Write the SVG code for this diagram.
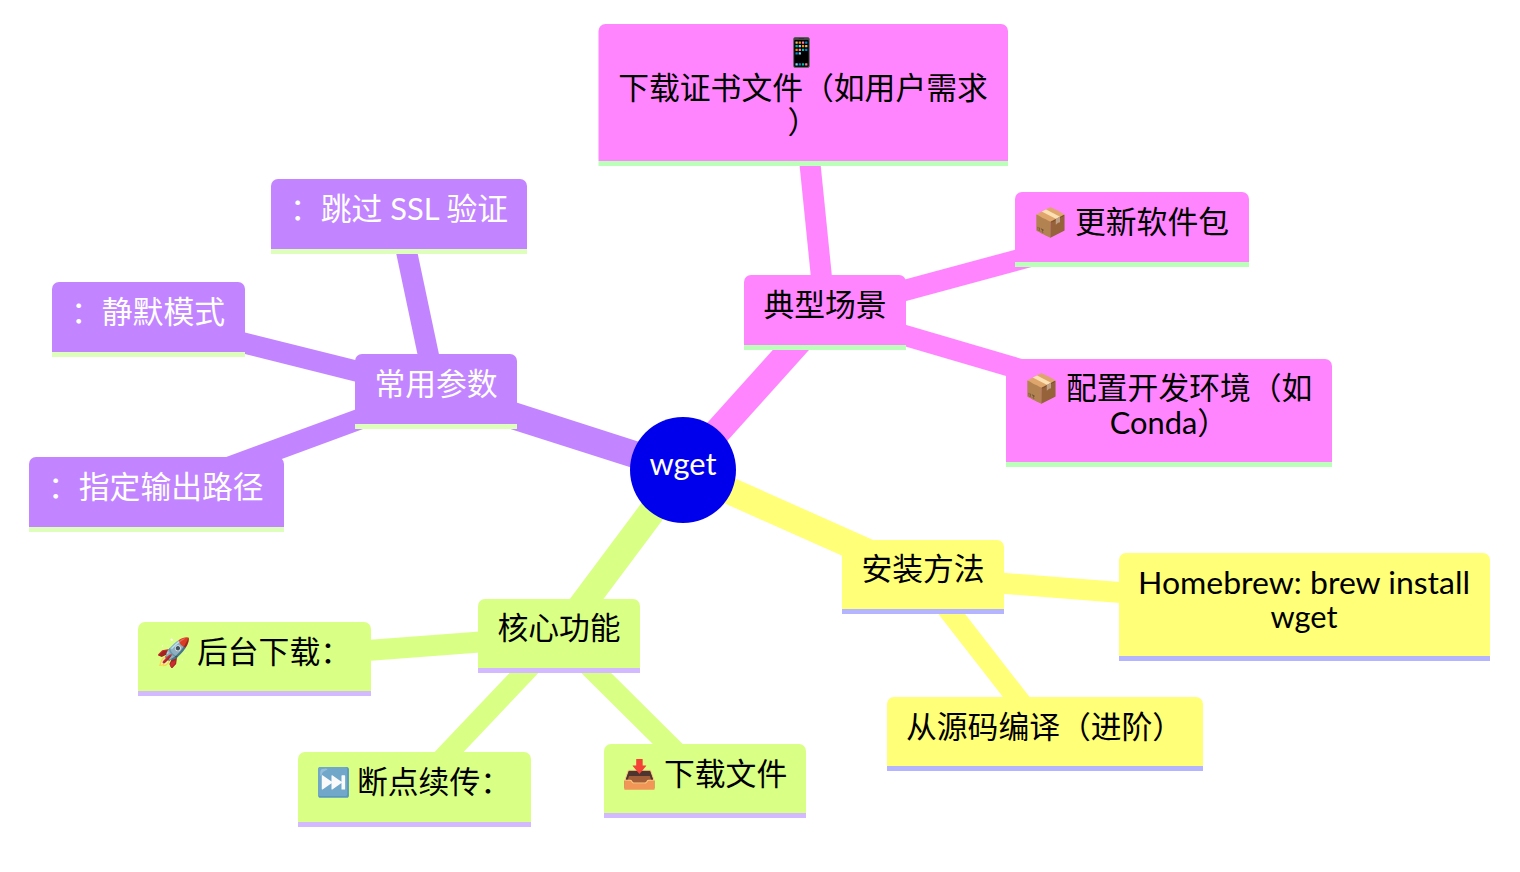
<svg xmlns="http://www.w3.org/2000/svg" width="1520" height="872" viewBox="0 0 1520 872">
<style>
text{font-family:"Lato","Noto Sans CJK SC","Noto Color Emoji",sans-serif;font-size:30.8px;fill:#000}
text.em{font-family:"Noto Color Emoji",sans-serif;font-size:28px}
text.w{fill:#fff}
.pk{fill:#ff85ff}.pu{fill:#c285ff}.gr{fill:#d9ff85}.ye{fill:#ffff78}
.pkl{fill:#bbffbb}.pul{fill:#ddffbb}.grl{fill:#d3b9ff}.yel{fill:#b5b5ff}
.e1{stroke-width:27}.e2{stroke-width:21}
.spk{stroke:#ff85ff}.spu{stroke:#c285ff}.sgr{stroke:#d9ff85}.sye{stroke:#ffff78}
.m{text-anchor:middle}
.slate{filter:hue-rotate(175deg) saturate(.45)}
</style>
<rect width="1520" height="872" fill="#fff"/>
<g id="edges">
<line class="e2 spk" x1="825" y1="312" x2="803" y2="95"/>
<line class="e2 spk" x1="825" y1="312" x2="1132" y2="229"/>
<line class="e2 spk" x1="825" y1="312" x2="1169" y2="413"/>
<line class="e2 sye" x1="923" y1="577" x2="1304" y2="607"/>
<line class="e2 sye" x1="923" y1="577" x2="1045" y2="734"/>
<line class="e2 sgr" x1="559" y1="636" x2="254" y2="659"/>
<line class="e2 sgr" x1="559" y1="636" x2="414" y2="789"/>
<line class="e2 sgr" x1="559" y1="636" x2="705" y2="781"/>
<line class="e2 spu" x1="436" y1="391" x2="399" y2="216"/>
<line class="e2 spu" x1="436" y1="391" x2="148" y2="319"/>
<line class="e2 spu" x1="436" y1="391" x2="156" y2="494"/>
<line class="e1 spk" x1="683" y1="470" x2="825" y2="312"/>
<line class="e1 sye" x1="683" y1="470" x2="923" y2="577"/>
<line class="e1 sgr" x1="683" y1="470" x2="559" y2="636"/>
<line class="e1 spu" x1="683" y1="470" x2="436" y2="391"/>
</g>
<g id="root"><circle cx="683" cy="470" r="53" fill="#0000ec"/><text class="w m" x="683" y="475">wget</text></g>
<g id="n-scene"><path class="pk" d="M744 345V282a7 7 0 0 1 7-7H899a7 7 0 0 1 7 7V345Z"/><rect class="pkl" x="744" y="345" width="162" height="5"/><text class="m" x="825" y="316">典型场景</text></g>
<g id="n-cert"><path class="pk" d="M598.500 161V31a7 7 0 0 1 7-7H1001a7 7 0 0 1 7 7V161Z"/><rect class="pkl" x="598.500" y="161" width="409.500" height="5"/><text class="em m" x="802" y="62">📱</text><text class="m" x="803" y="99">下载证书文件（如用户需求</text><text class="m" x="803" y="133">）</text></g>
<g id="n-update"><path class="pk" d="M1015 262V199a7 7 0 0 1 7-7H1242a7 7 0 0 1 7 7V262Z"/><rect class="pkl" x="1015" y="262" width="234" height="5"/><text class="em" x="1033" y="232">📦</text><text x="1075" y="233">更新软件包</text></g>
<g id="n-env"><path class="pk" d="M1006 462V366a7 7 0 0 1 7-7H1325a7 7 0 0 1 7 7V462Z"/><rect class="pkl" x="1006" y="462" width="326" height="5"/><text class="em" x="1024" y="398">📦</text><text x="1066" y="399">配置开发环境（如</text><text class="m" x="1169" y="434">Conda）</text></g>
<g id="n-install"><path class="ye" d="M842 609V547a7 7 0 0 1 7-7H997a7 7 0 0 1 7 7V609Z"/><rect class="yel" x="842" y="609" width="162" height="5"/><text class="m" x="923" y="580">安装方法</text></g>
<g id="n-brew"><path class="ye" d="M1119 656V560a7 7 0 0 1 7-7H1483a7 7 0 0 1 7 7V656Z"/><rect class="yel" x="1119" y="656" width="371" height="5"/><text x="1138" y="594" textLength="332" lengthAdjust="spacingAndGlyphs">Homebrew: brew install</text><text class="m" x="1304" y="628">wget</text></g>
<g id="n-src"><path class="ye" d="M887 766V704a7 7 0 0 1 7-7H1196a7 7 0 0 1 7 7V766Z"/><rect class="yel" x="887" y="766" width="316" height="5"/><text x="906" y="738">从源码编译（进阶）</text></g>
<g id="n-core"><path class="gr" d="M478 668V606a7 7 0 0 1 7-7H633a7 7 0 0 1 7 7V668Z"/><rect class="grl" x="478" y="668" width="162" height="5"/><text class="m" x="559" y="639">核心功能</text></g>
<g id="n-bg"><path class="gr" d="M138 691V629a7 7 0 0 1 7-7H364a7 7 0 0 1 7 7V691Z"/><rect class="grl" x="138" y="691" width="233" height="5"/><text class="em" x="156" y="662">🚀</text><text x="197" y="663">后台下载：</text></g>
<g id="n-resume"><path class="gr" d="M298 822V759a7 7 0 0 1 7-7H524a7 7 0 0 1 7 7V822Z"/><rect class="grl" x="298" y="822" width="233" height="5"/><text class="em slate" x="316" y="792">⏭️</text><text x="357" y="793">断点续传：</text></g>
<g id="n-dl"><path class="gr" d="M604 813V751a7 7 0 0 1 7-7H799a7 7 0 0 1 7 7V813Z"/><rect class="grl" x="604" y="813" width="202" height="5"/><text class="em" x="622" y="784">📥</text><text x="664" y="785">下载文件</text></g>
<g id="n-params"><path class="pu" d="M355 424V361a7 7 0 0 1 7-7H510a7 7 0 0 1 7 7V424Z"/><rect class="pul" x="355" y="424" width="162" height="5"/><text class="w m" x="436" y="395">常用参数</text></g>
<g id="n-ssl"><path class="pu" d="M271 249V186a7 7 0 0 1 7-7H520a7 7 0 0 1 7 7V249Z"/><rect class="pul" x="271" y="249" width="256" height="5"/><text class="w" x="290" y="220">：跳过 SSL 验证</text></g>
<g id="n-quiet"><path class="pu" d="M52 352V289a7 7 0 0 1 7-7H238a7 7 0 0 1 7 7V352Z"/><rect class="pul" x="52" y="352" width="193" height="5"/><text class="w" x="71" y="323">：静默模式</text></g>
<g id="n-out"><path class="pu" d="M29 527V464a7 7 0 0 1 7-7H277a7 7 0 0 1 7 7V527Z"/><rect class="pul" x="29" y="527" width="255" height="5"/><text class="w" x="48" y="498">：指定输出路径</text></g>
</svg>
